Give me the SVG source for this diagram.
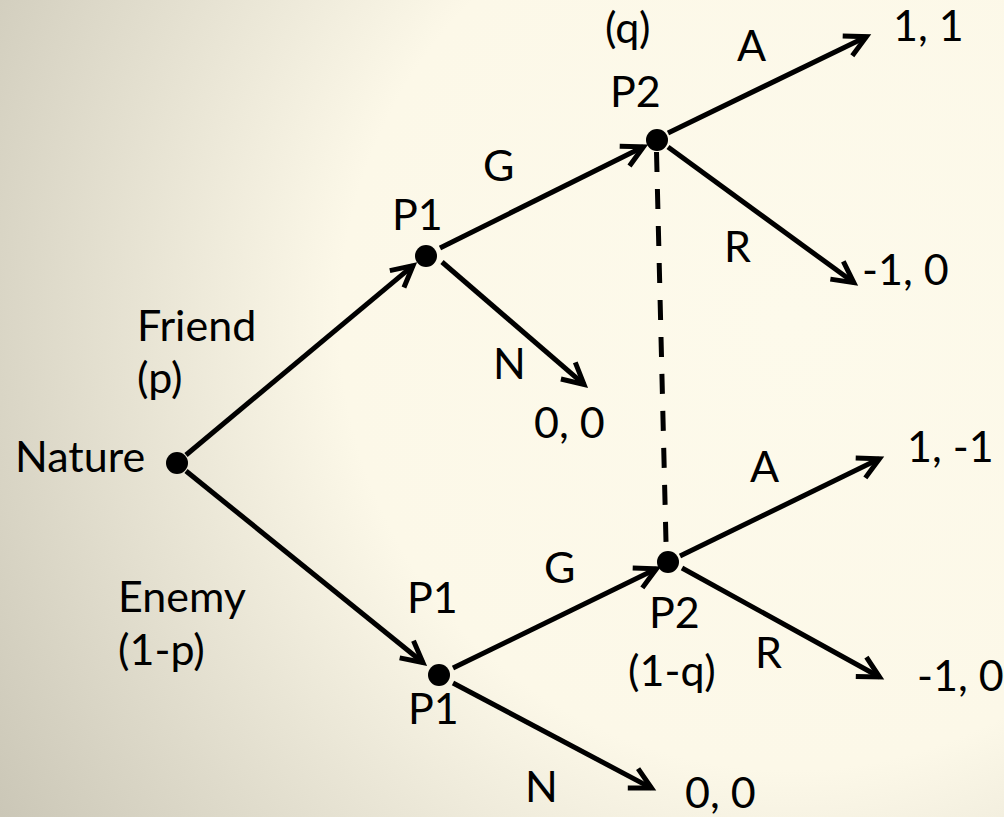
<svg xmlns="http://www.w3.org/2000/svg" width="1004" height="817" viewBox="0 0 1004 817">
<defs>
<radialGradient id="bg" gradientUnits="userSpaceOnUse" cx="790" cy="320" r="1000">
<stop offset="0" stop-color="#fdfaeb"/>
<stop offset="0.45" stop-color="#fcf8e8"/>
<stop offset="1" stop-color="#c4c0b0"/>
</radialGradient>
<marker id="arr" viewBox="-30 -15 40 30" markerWidth="40" markerHeight="30" refX="0" refY="0" orient="auto" markerUnits="userSpaceOnUse">
<path d="M -21,-11 L 0,0 L -21,11" fill="none" stroke="#000" stroke-width="5"/>
</marker>
<style>
text{font-family:Lato,"Liberation Sans",sans-serif;font-size:43px;fill:#000}
.e{stroke:#000;stroke-width:5;fill:none;marker-end:url(#arr)}
.d{fill:#000}
</style>
</defs>
<rect x="0" y="0" width="1004" height="817" fill="url(#bg)"/>
<g id="connectors">
<line class="e" x1="186" y1="455" x2="413" y2="265.6"/>
<line class="e" x1="186" y1="471" x2="422.9" y2="662.5"/>
<line class="e" x1="440" y1="248" x2="643.4" y2="146.8"/>
<line class="e" x1="442" y1="262" x2="584" y2="384.4"/>
<line class="e" x1="668" y1="133" x2="866.4" y2="36.7"/>
<line class="e" x1="668" y1="147" x2="853.8" y2="282.6"/>
<line class="e" x1="453" y1="668" x2="656.4" y2="568.8"/>
<line class="e" x1="453" y1="683" x2="651.5" y2="788.1"/>
<line class="e" x1="680" y1="556" x2="879.4" y2="458.8"/>
<line class="e" x1="682" y1="568" x2="879.5" y2="677"/>
<line x1="656.5" y1="152" x2="666" y2="542" stroke="#000" stroke-width="5" stroke-dasharray="20 17"/>
</g>
<g id="nature">
<circle class="d" cx="177" cy="463" r="11"/>
<text x="15" y="472">Nature</text>
</g>
<g id="p1-friend">
<circle class="d" cx="426" cy="256" r="11"/>
<text x="392" y="230">P1</text>
</g>
<g id="p2-friend">
<circle class="d" cx="657" cy="140" r="11"/>
<text x="610" y="107">P2</text>
<text x="605" y="43">(q)</text>
</g>
<g id="p1-enemy">
<circle class="d" cx="439" cy="675" r="11"/>
<text x="407" y="613">P1</text>
<text x="408" y="724">P1</text>
</g>
<g id="p2-enemy">
<circle class="d" cx="668" cy="562" r="11"/>
<text x="649" y="628">P2</text>
<text x="628" y="686">(1-q)</text>
</g>
<g id="labels">
<text x="137" y="341">Friend</text>
<text x="137" y="393">(p)</text>
<text x="118" y="612">Enemy</text>
<text x="118" y="665">(1-p)</text>
<text x="483" y="181">G</text>
<text x="493" y="379">N</text>
<text x="737" y="61">A</text>
<text x="724" y="262">R</text>
<text x="544" y="583">G</text>
<text x="525" y="802">N</text>
<text x="750" y="482">A</text>
<text x="755" y="668">R</text>
</g>
<g id="payoffs">
<text x="893" y="41">1, 1</text>
<text x="862" y="285">-1, 0</text>
<text x="534" y="438">0, 0</text>
<text x="907" y="462">1, -1</text>
<text x="917" y="691">-1, 0</text>
<text x="685" y="808">0, 0</text>
</g>
</svg>
